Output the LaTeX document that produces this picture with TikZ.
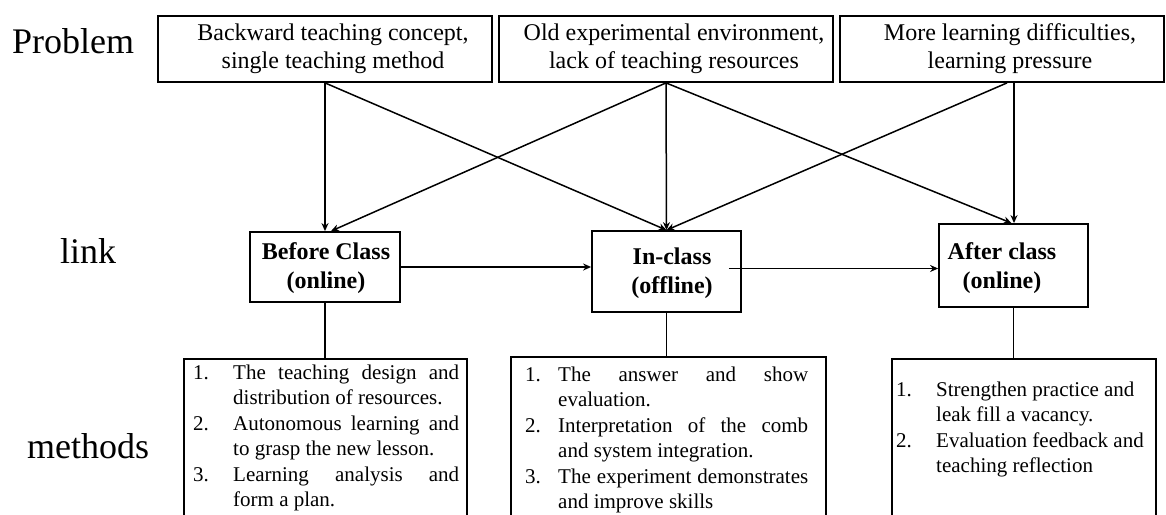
\documentclass[tikz,border=0pt]{standalone}
\usepackage{fontspec}
\setmainfont{Liberation Serif}
\usetikzlibrary{arrows.meta,calc}
\begin{document}
\begin{tikzpicture}[x=1pt,y=-1pt,
  pbox/.style={draw, line width=1.8pt, minimum height=66pt, inner sep=0pt},
  ptext/.style={font=\fontsize{24}{28}\selectfont, align=center, inner sep=0pt},
  lbox/.style={draw, line width=1.8pt, inner sep=0pt},
  ltext/.style={font=\fontsize{24}{29}\selectfont\bfseries, align=center, inner sep=0pt},
  mbox/.style={draw, line width=1.8pt, inner sep=0pt, minimum height=220pt, anchor=north west},
  mtext/.style={font=\fontsize{21}{25.5}\selectfont, align=justify, inner sep=0pt, anchor=base west},
  side/.style={font=\fontsize{36}{40}\selectfont, inner sep=0pt, anchor=base west},
  conn/.style={line width=1.5pt},
  arr/.style={conn, -{Stealth[length=8pt,width=7pt]}}]
\clip (0,0) rectangle (1166,514);
\fill[white] (0,0) rectangle (1166,514);

% side labels
\node[side] (lp) at (12,53) {Problem};
\node[side] (ll) at (60,263) {link};
\node[side] (lm) at (27,458) {methods};

% problem boxes
\node[pbox, minimum width=334pt] (p1) at (325,49) {};
\node[ptext] (p1t) at (333,49) {Backward teaching concept,\\single teaching method};
\node[pbox, minimum width=334pt] (p2) at (666,49) {};
\node[ptext] (p2t) at (674,49) {Old experimental environment,\\lack of teaching resources};
\node[pbox, minimum width=324pt] (p3) at (1002,49) {};
\node[ptext] (p3t) at (1010,49) {More learning difficulties,\\learning pressure};

% link boxes
\node[lbox, minimum width=150pt, minimum height=70pt] (b1) at (325,267) {};
\node[ltext] (b1t) at (326,268.5) {Before Class\\(online)};
\node[lbox, minimum width=149pt, minimum height=81pt] (i1) at (666.5,271.5) {};
\node[ltext] (i1t) at (672,273.5) {In-class\\(offline)};
\node[lbox, minimum width=149pt, minimum height=83pt] (a1) at (1013.5,265.5) {};
\node[ltext] (a1t) at (1002,268.5) {After class\\(online)};

% method boxes
\node[mbox, minimum width=283pt] (m1) at (183,358) {};
\node[mbox, minimum width=315pt] (m2) at (510,356) {};
\node[mbox, minimum width=264pt] (m3) at (891,358) {};

\node[mtext, text width=266pt] (m1t) at (193,379) {\hyphenpenalty=10000
\hangindent=40pt\hangafter=1\noindent\makebox[40pt][l]{1.}The teaching design and\linebreak distribution of resources.\par
\hangindent=40pt\hangafter=1\noindent\makebox[40pt][l]{2.}Autonomous learning and\linebreak to grasp the new lesson.\par
\hangindent=40pt\hangafter=1\noindent\makebox[40pt][l]{3.}Learning analysis and\linebreak form a plan.\par};

\node[mtext, text width=283pt] (m2t) at (525,381) {\hyphenpenalty=10000
\hangindent=33pt\hangafter=1\noindent\makebox[33pt][l]{1.}The answer and show\linebreak evaluation.\par
\hangindent=33pt\hangafter=1\noindent\makebox[33pt][l]{2.}Interpretation of the comb\linebreak and system integration.\par
\hangindent=33pt\hangafter=1\noindent\makebox[33pt][l]{3.}The experiment demonstrates\linebreak and improve skills\par};

\node[mtext, text width=258pt] (m3t) at (896,396) {\hyphenpenalty=10000
\hangindent=40pt\hangafter=1\noindent\makebox[40pt][l]{1.}Strengthen practice and\newline leak fill a vacancy.\par
\hangindent=40pt\hangafter=1\noindent\makebox[40pt][l]{2.}Evaluation feedback and\newline teaching reflection\par};

% connectors problem -> link
\draw[arr] (p1.south) -- (b1.north);
\draw[arr] (p1.south) -- (i1.north);
\draw[arr] (p2.south) -- ($(b1.north)+(6,0)$);
\draw[arr] (p2.south) -- (i1.north);
\draw[arr] (p2.south) -- ($(a1.north)+(-2,0)$);
\draw[arr] ($(p3.south)+(5,0)$) -- (i1.north);
\draw[arr] ($(p3.south)+(12,0)$) -- ($(a1.north)+(0.5,0)$);

% link -> link
\draw[arr] (b1.east) -- (i1.west |- b1.east);
\draw[arr] ($(i1.east)+(-13,-3)$) -- ($(a1.west)+(0,3)$);

% link -> methods
\draw[conn] (b1.south) -- (b1.south |- m1.north);
\draw[conn] (i1.south) -- (i1.south |- m2.north);
\draw[conn] (a1.south) -- (a1.south |- m3.north);
\end{tikzpicture}
\end{document}
